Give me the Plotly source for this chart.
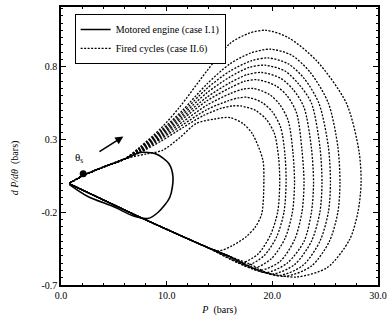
import plotly.graph_objects as go

# shared compression path (bars, bars/deg)
comp_P = [0.8, 2.2, 4.0, 6.0]
comp_v = [0.0, 0.055, 0.11, 0.165]

# shared late-expansion line
exp_P = [18.0, 16.0, 13.8, 11.0, 7.5, 4.0, 0.8]
exp_v = [-0.56, -0.505, -0.44, -0.35, -0.235, -0.115, -0.005]

# motored engine (case I.1)
mot_P = [0.8, 2.2, 4.0, 6.0, 7.5, 9.0, 10.2, 10.6, 10.3, 9.2, 8.2, 6.8, 5.1, 2.5, 0.8]
mot_v = [0.0, 0.055, 0.11, 0.165, 0.21, 0.2, 0.135, 0.04, -0.097, -0.2, -0.243, -0.225, -0.166, -0.09, -0.01]

# fired cycles (case II.6): combustion/expansion loops
c1_P = [7.5, 9.5, 11.2, 13.8, 16.0, 17.8, 19.4, 21.5, 24.2, 27.0, 28.2, 28.4, 28.1, 27.3, 25.2, 22.3, 19.5]
c1_v = [0.25, 0.38, 0.52, 0.77, 0.96, 1.03, 1.05, 1.00, 0.84, 0.55, 0.22, 0.00, -0.20, -0.39, -0.58, -0.645, -0.615]
c2_P = [7.5, 9.5, 11.5, 13.8, 16.0, 18.0, 19.8, 21.8, 23.6, 25.3, 26.2, 26.4, 26.2, 25.4, 23.7, 21.2, 18.8]
c2_v = [0.245, 0.365, 0.50, 0.68, 0.82, 0.895, 0.92, 0.88, 0.76, 0.55, 0.25, 0.00, -0.20, -0.40, -0.57, -0.64, -0.60]
c3_P = [7.5, 9.5, 11.5, 13.8, 16.0, 18.0, 19.6, 21.5, 23.0, 24.4, 25.3, 25.5, 25.3, 24.5, 22.9, 20.6, 18.4]
c3_v = [0.24, 0.355, 0.485, 0.65, 0.77, 0.84, 0.86, 0.82, 0.72, 0.55, 0.25, 0.00, -0.20, -0.40, -0.565, -0.635, -0.59]
c4_P = [7.5, 9.5, 11.5, 13.8, 16.0, 17.8, 19.3, 21.2, 22.5, 23.7, 24.5, 24.7, 24.5, 23.7, 22.1, 20.0, 18.0]
c4_v = [0.235, 0.345, 0.47, 0.62, 0.73, 0.795, 0.81, 0.77, 0.68, 0.55, 0.25, 0.00, -0.20, -0.40, -0.56, -0.625, -0.58]
c5_P = [7.5, 9.5, 11.5, 13.8, 16.0, 17.6, 19.0, 20.8, 22.0, 23.0, 23.7, 23.9, 23.7, 23.0, 21.4, 19.4, 17.6]
c5_v = [0.23, 0.335, 0.455, 0.59, 0.69, 0.745, 0.76, 0.72, 0.64, 0.52, 0.24, 0.00, -0.20, -0.40, -0.55, -0.615, -0.57]
c6_P = [7.5, 9.5, 11.5, 13.8, 16.0, 17.4, 18.6, 20.3, 21.4, 22.3, 22.8, 23.0, 22.8, 22.1, 20.7, 18.8, 17.2]
c6_v = [0.225, 0.325, 0.44, 0.565, 0.655, 0.70, 0.71, 0.67, 0.60, 0.48, 0.23, 0.00, -0.20, -0.39, -0.54, -0.60, -0.56]
c7_P = [7.5, 9.5, 11.5, 13.8, 16.0, 17.2, 18.2, 19.7, 20.7, 21.5, 21.95, 22.1, 21.9, 21.2, 19.9, 18.2, 16.8]
c7_v = [0.22, 0.315, 0.42, 0.535, 0.615, 0.645, 0.65, 0.61, 0.54, 0.43, 0.21, 0.00, -0.20, -0.38, -0.52, -0.585, -0.55]
c8_P = [7.5, 9.5, 11.5, 13.8, 15.8, 16.8, 17.6, 19.0, 20.0, 20.8, 21.2, 21.3, 21.1, 20.4, 19.2, 17.6, 16.4]
c8_v = [0.215, 0.305, 0.40, 0.505, 0.565, 0.585, 0.59, 0.555, 0.49, 0.38, 0.19, 0.00, -0.20, -0.37, -0.50, -0.565, -0.53]
c9_P = [7.5, 9.5, 11.5, 13.5, 15.2, 16.2, 17.0, 18.4, 19.4, 20.2, 20.6, 20.7, 20.5, 19.8, 18.6, 17.0, 16.0]
c9_v = [0.21, 0.29, 0.38, 0.465, 0.515, 0.53, 0.53, 0.50, 0.44, 0.34, 0.17, 0.00, -0.20, -0.36, -0.49, -0.55, -0.52]
c10_P = [8.0, 9.6, 11.2, 12.8, 14.5, 16.0, 17.2, 18.1, 19.1, 19.2, 19.0, 18.4, 17.5, 16.2, 15.0]
c10_v = [0.20, 0.225, 0.31, 0.41, 0.44, 0.45, 0.41, 0.34, 0.16, 0.02, -0.21, -0.30, -0.37, -0.43, -0.465]

fired = [(c1_P, c1_v), (c2_P, c2_v), (c3_P, c3_v), (c4_P, c4_v), (c5_P, c5_v),
         (c6_P, c6_v), (c7_P, c7_v), (c8_P, c8_v), (c9_P, c9_v), (c10_P, c10_v)]

theta_P = [2.1]
theta_v = [0.065]

x_ticks = [0, 10, 20, 30]
x_labels = ["0.0", "10.0", "20.0", "30.0"]
y_ticks = [-0.7, -0.2, 0.3, 0.8]
y_labels = ["-0.7", "-0.2", "0.3", "0.8"]

SERIF = "Liberation Serif, DejaVu Serif, serif"

fig = go.Figure()

for i, (cp, cv) in enumerate(fired):
    tail = [(p, v) for p, v in zip(exp_P, exp_v) if p < cp[-1] - 0.8]
    xs = comp_P + cp + [t[0] for t in tail]
    ys = comp_v + cv + [t[1] for t in tail]
    fig.add_trace(go.Scatter(
        x=xs, y=ys, mode="lines",
        line=dict(color="black", width=1.3, dash="2px,1.5px", shape="spline", smoothing=0.8),
        name="Fired cycles (case II.6)", showlegend=(i == 0), legendrank=2,
    ))

fig.add_trace(go.Scatter(
    x=mot_P, y=mot_v, mode="lines",
    line=dict(color="black", width=1.6, shape="spline", smoothing=0.8),
    name="Motored engine (case I.1)", legendrank=1,
))

fig.add_trace(go.Scatter(
    x=theta_P, y=theta_v, mode="markers",
    marker=dict(color="black", size=7), showlegend=False,
))

fig.add_annotation(x=1.7, y=0.17, text="θ<sub>s</sub>", showarrow=False,
                   font=dict(family=SERIF, size=11, color="black"))
fig.add_annotation(x=5.9, y=0.32, ax=3.5, ay=0.21, axref="x", ayref="y",
                   xref="x", yref="y", text="", showarrow=True,
                   arrowhead=2, arrowsize=1, arrowwidth=1.6, arrowcolor="black")
# y-axis title (placed as in the original, slightly below centre)
fig.add_annotation(xref="paper", yref="paper", x=-0.145, y=0.42, textangle=-90,
                   text="<i>d P/dθ</i>  (bars)", showarrow=False,
                   xanchor="center", yanchor="middle",
                   font=dict(family=SERIF, size=10, color="black"))

fig.update_layout(
    width=392, height=324,
    margin=dict(l=61, r=11, t=5, b=39),
    paper_bgcolor="white", plot_bgcolor="white",
    font=dict(family=SERIF, size=10, color="black"),
    legend=dict(
        x=0.043, y=0.975, xanchor="left", yanchor="top",
        bordercolor="black", borderwidth=1, bgcolor="white",
        font=dict(family=SERIF, size=10, color="black"),
        itemwidth=30, tracegroupgap=0,
    ),
    showlegend=True,
)

fig.update_xaxes(
    range=[0, 30], tickvals=x_ticks, ticktext=x_labels,
    showline=True, linecolor="black", linewidth=1.5, mirror="ticks",
    ticks="inside", ticklen=4, tickcolor="black", showgrid=False, zeroline=False,
    minor=dict(dtick=2, ticks="inside", ticklen=2, tickcolor="black", showgrid=False),
    title=dict(text="<i>P</i>  (bars)", font=dict(family=SERIF, size=10), standoff=6),
    tickfont=dict(family=SERIF, size=10, color="black"),
)
fig.update_yaxes(
    range=[-0.7, 1.21], tickvals=y_ticks, ticktext=y_labels,
    showline=True, linecolor="black", linewidth=1.5, mirror="ticks",
    ticks="inside", ticklen=5, tickcolor="black", showgrid=False, zeroline=False,
    minor=dict(dtick=0.05, tick0=-0.7, ticks="inside", ticklen=2, tickcolor="black", showgrid=False),
    tickfont=dict(family=SERIF, size=10, color="black"),
)

fig.write_html("out.html", config={"displayModeBar": False},
               post_script="document.body.style.margin='0';document.body.style.overflow='hidden';")
